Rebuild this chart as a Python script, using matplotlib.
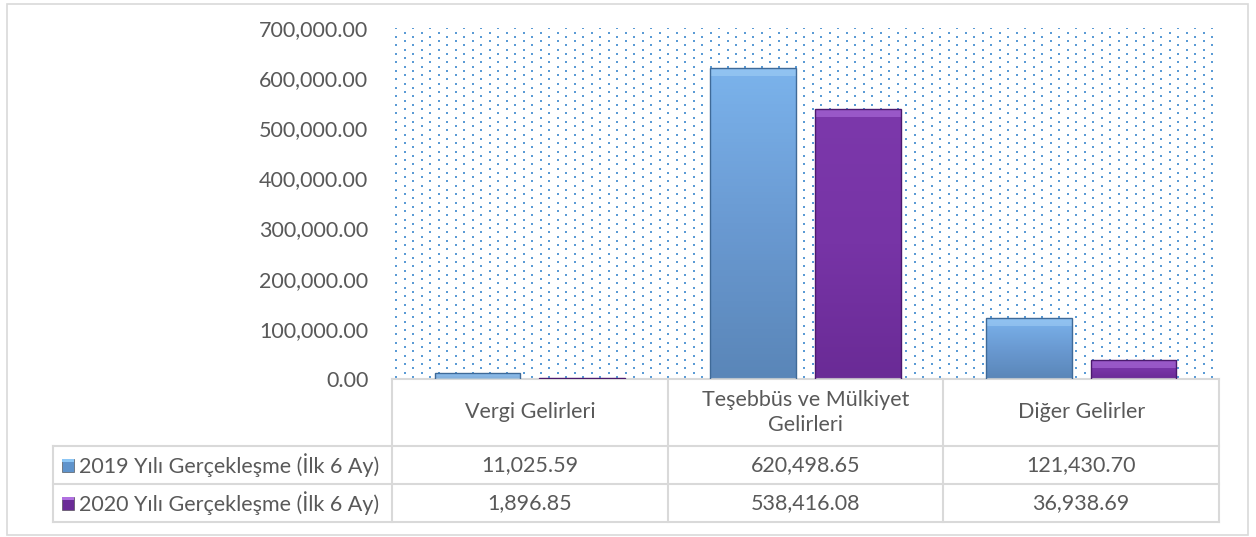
import numpy as np
import matplotlib.pyplot as plt
from matplotlib.patches import Rectangle
from matplotlib.colors import LinearSegmentedColormap
import matplotlib.transforms as mtransforms

categories = ['Vergi Gelirleri', 'Teşebbüs ve Mülkiyet\nGelirleri', 'Diğer Gelirler']
series_names = ['2019 Yılı Gerçekleşme (İlk 6 Ay)', '2020 Yılı Gerçekleşme (İlk 6 Ay)']
values_2019 = [11025.59, 620498.65, 121430.70]
values_2020 = [1896.85, 538416.08, 36938.69]
yticks = [0, 100000, 200000, 300000, 400000, 500000, 600000, 700000]

plt.rcParams['font.family'] = ['Lato', 'DejaVu Sans']
txt_color = '#595959'
grid_color = '#d9d9d9'
fs = 15.5

W, H = 1256, 537
fig = plt.figure(figsize=(W / 100, H / 100), dpi=100)

# outer frame
fig.patches.append(Rectangle((7 / W, 1 - 535 / H), (1248 - 7) / W, (535 - 4) / H,
                             transform=fig.transFigure, fill=False, edgecolor=grid_color, lw=1.2))

x0, x1, y0, y1 = 392, 1219, 379, 28
ax = fig.add_axes([x0 / W, 1 - y0 / H, (x1 - x0) / W, (y0 - y1) / H])
for s in ax.spines.values():
    s.set_visible(False)

# dotted background texture (columns every 8.5px, alternate columns shifted)
dx, dy = 8.5 / (x1 - x0), 8.5 / (y0 - y1)
gx = np.arange(dx / 2, 1, dx)
gy = np.arange(dy / 4, 1 + dy, dy)
XX, YY = np.meshgrid(gx, gy)
YY = YY + (np.arange(len(gx))[None, :] % 2) * dy / 2
keep = YY < 1
ax.scatter(XX[keep], YY[keep], s=2.6, marker='s', color='#5b9bd5', linewidths=0,
           transform=ax.transAxes, zorder=0, clip_on=True)

blue_cmap = LinearSegmentedColormap.from_list('b', ['#5a86b8', '#6a9ad2', '#7bb3ec'])
purple_cmap = LinearSegmentedColormap.from_list('p', ['#6a2b96', '#7734a6', '#7c38ab'])

width = 0.31
offsets = [-0.19, 0.19]
x = np.arange(len(categories))
for vals, off, cmap, edge, top in [(values_2019, offsets[0], blue_cmap, '#3f6a98', '#a6d2f7'),
                                   (values_2020, offsets[1], purple_cmap, '#4b1a6e', '#b77ae6')]:
    bars = ax.bar(x + off, vals, width, color='none', edgecolor=edge, lw=1.0, zorder=3)
    for b in bars:
        bx, by, bw, bh = b.get_x(), b.get_y(), b.get_width(), b.get_height()
        grad = np.linspace(0, 1, 100).reshape(-1, 1)
        im = ax.imshow(grad, cmap=cmap, origin='lower', aspect='auto',
                       extent=[bx, bx + bw, by, by + bh], zorder=2)
        im.set_clip_path(b)
        # top bevel highlight
        hb = min(bh, 8 * 700000 / (y0 - y1))
        ax.add_patch(Rectangle((bx, by + bh - hb), bw, hb, facecolor=top, alpha=0.5,
                               edgecolor='none', zorder=2.5))
ax.set_xlim(-0.5, 2.5)
ax.set_ylim(0, 700000)

ax.set_yticks(yticks)
ax.set_yticklabels([f'{v:,.2f}' for v in yticks], fontsize=fs, color=txt_color)
ax.tick_params(axis='y', length=0, pad=17)
ax.set_xticks([])

# data table below the axes
trans = mtransforms.blended_transform_factory(ax.transData, fig.transFigure)
def fy(p):
    return 1 - p / H
rows = [379, 446, 484, 522]
left_px = 53
left_x = -0.5 - (x0 - left_px) / (x1 - x0) * 3
kw = dict(color=grid_color, lw=1.5, transform=trans, clip_on=False)
ax.plot([-0.5, 2.5], [fy(rows[0])] * 2, **kw)
for r in rows[1:]:
    ax.plot([left_x, 2.5], [fy(r)] * 2, **kw)
for c in [-0.5, 0.5, 1.5, 2.5]:
    ax.plot([c, c], [fy(rows[0]), fy(rows[3])], **kw)
ax.plot([left_x, left_x], [fy(rows[1]), fy(rows[3])], **kw)

for i, cat in enumerate(categories):
    ax.text(i, fy((rows[0] + rows[1]) / 2), cat, ha='center', va='center', fontsize=fs,
            color=txt_color, transform=trans, linespacing=1.3)
for r, vals in enumerate([values_2019, values_2020]):
    yc = fy((rows[r + 1] + rows[r + 2]) / 2)
    for i, v in enumerate(vals):
        ax.text(i, yc, f'{v:,.2f}', ha='center', va='center', fontsize=fs,
                color=txt_color, transform=trans)

key_cols = [('#5e93cc', '#8cc6f5'), ('#6a2b96', '#b070e0')]
for r, name in enumerate(series_names):
    yc = (rows[r + 1] + rows[r + 2]) / 2
    fc, hc = key_cols[r]
    fig.patches.append(Rectangle((62 / W, fy(yc + 6.5)), 12 / W, 13 / H, transform=fig.transFigure,
                                 facecolor=fc, edgecolor='#404040', lw=0.4))
    fig.patches.append(Rectangle((62 / W, fy(yc - 3)), 12 / W, 3.5 / H, transform=fig.transFigure,
                                 facecolor=hc, edgecolor='none'))
    fig.text(79 / W, fy(yc), name, ha='left', va='center', fontsize=fs, color=txt_color)

fig.savefig('out.png', dpi=100)
